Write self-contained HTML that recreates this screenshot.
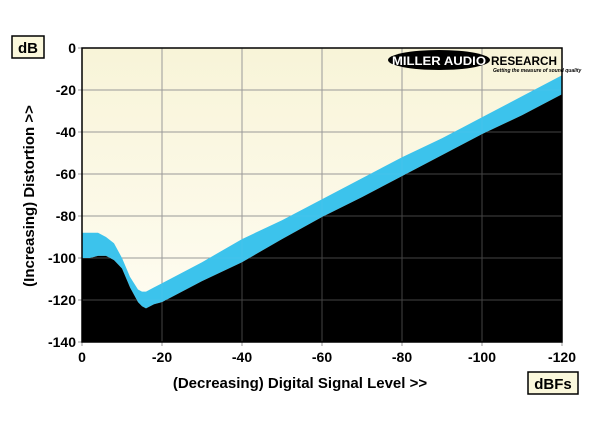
<!DOCTYPE html>
<html><head><meta charset="utf-8"><style>
body{margin:0;background:#fff;}
svg{display:block;font-family:"Liberation Sans",sans-serif;font-weight:bold;}
</style></head><body>
<svg id="c" width="600" height="425" viewBox="0 0 600 425">
<defs><linearGradient id="bg" x1="0" y1="0" x2="0" y2="1"><stop offset="0" stop-color="#f8f4d8"/><stop offset="1" stop-color="#fffdf4"/></linearGradient></defs>
<g id="plot"></g>
<rect x="12" y="36" width="32" height="22" fill="#fbf8dc" stroke="#000" stroke-width="1.5"/>
<text x="28" y="53" font-size="15" text-anchor="middle">dB</text>
<rect x="528" y="372" width="50" height="22" fill="#fbf8dc" stroke="#000" stroke-width="1.5"/>
<text x="553" y="389" font-size="15" text-anchor="middle">dBFs</text>
<text x="300" y="388" font-size="15" text-anchor="middle">(Decreasing) Digital Signal Level &gt;&gt;</text>
<text transform="translate(34,196) rotate(-90)" font-size="15" text-anchor="middle">(Increasing) Distortion &gt;&gt;</text>
<g>
<ellipse cx="439" cy="60" rx="51" ry="10" fill="#000"/>
<text x="439" y="65" font-size="12" fill="#fff" text-anchor="middle" textLength="94" lengthAdjust="spacingAndGlyphs">MILLER AUDIO</text>
<text x="491" y="65" font-size="12" fill="#000" textLength="66" lengthAdjust="spacingAndGlyphs">RESEARCH</text>
<text x="493" y="72" font-size="5" font-style="italic" fill="#000">Getting the measure of sound quality</text>
</g>
</svg>
<script>
const xTicks=[0,-20,-40,-60,-80,-100,-120];
const yTicks=[0,-20,-40,-60,-80,-100,-120,-140];
const levels=[0,2,4,6,8,10,12,14,15,16,18,20,30,40,50,60,70,80,90,100,110,120];
const upper=[-88,-88,-88,-90,-93,-100,-109,-115,-116,-116,-114,-112,-102,-91,-82,-72,-62,-52,-43,-33,-23,-13];
const lower=[-100,-100,-99,-99,-101,-105,-114,-121,-123,-124,-122,-121,-111,-102,-91,-80.5,-71,-61,-51,-41,-32,-22];
const X0=82,X1=562,Y0=48,Y1=342;
const sx=v=>X0+(-v)/120*(X1-X0)*(-1)*(-1)*(v<=0?1:1)*(v<0?1:1);
function xs(v){return X0+Math.abs(v)/120*(X1-X0);}
function ys(v){return Y0+(-v)/140*(Y1-Y0);}
const ns="http://www.w3.org/2000/svg",g=document.getElementById('plot');
function mk(t,a){const e=document.createElementNS(ns,t);for(const k in a)e.setAttribute(k,a[k]);g.appendChild(e);return e;}
let r=mk('rect',{x:X0,y:Y0,width:X1-X0,height:Y1-Y0,fill:'url(#bg)'});


xTicks.forEach(t=>{const l=mk('line',{x1:xs(t),x2:xs(t),y1:Y0,y2:Y1+4,stroke:'#999','stroke-width':1});


const tx=mk('text',{x:xs(t),y:Y1+20,'font-size':14,'text-anchor':'middle'});tx.textContent=t;

});
yTicks.forEach(t=>{const l=mk('line',{x1:X0-4,x2:X1,y1:ys(t),y2:ys(t),stroke:'#999','stroke-width':1});


const tx=mk('text',{x:X0-6,y:ys(t)+5,'font-size':14,'text-anchor':'end'});tx.textContent=t;

});
let up=levels.map((v,i)=>xs(v)+','+ys(upper[i])).join(' ');
let lo=levels.map((v,i)=>xs(v)+','+ys(lower[i]));
const band=mk('polygon',{points:up+' '+lo.slice().reverse().join(' '),fill:'#3cc3ec'});


const fl=mk('polygon',{points:lo.join(' ')+' '+X1+','+Y1+' '+X0+','+Y1,fill:'#000'});


yTicks.slice(0,7).forEach(t=>{if(t<=-20){const l=mk('line',{x1:X0,x2:X1,y1:ys(t),y2:ys(t),stroke:'#444','stroke-width':1});l.setAttribute('style','mix-blend-mode:lighten');}});
xTicks.forEach(t=>{const l=mk('line',{x1:xs(t),x2:xs(t),y1:Y0,y2:Y1,stroke:'#444','stroke-width':1});l.setAttribute('style','mix-blend-mode:lighten');});
const fr=mk('rect',{x:X0,y:Y0,width:X1-X0,height:Y1-Y0,fill:'none',stroke:'#000','stroke-width':1.5});


</script>
</body></html>
